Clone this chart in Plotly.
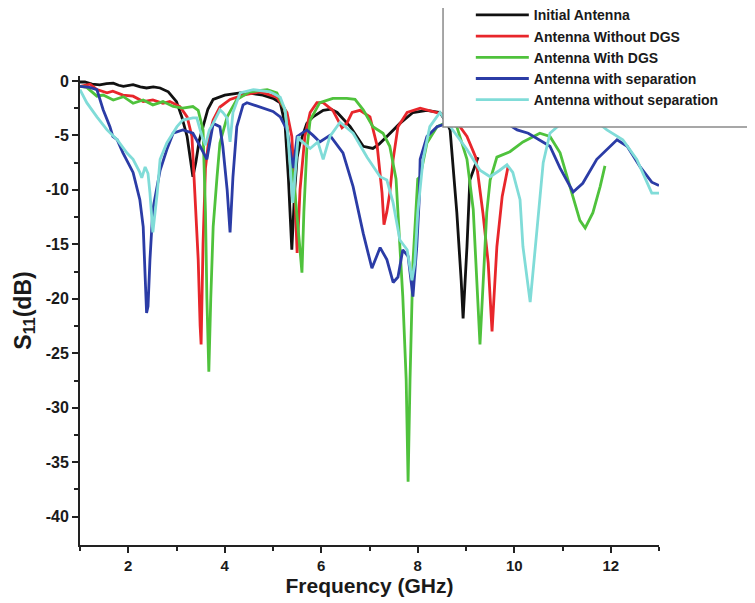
import plotly.graph_objects as go

# ---------------- data (frequency in GHz, S11 in dB) ----------------
series_names = ["Initial Antenna", "Antenna Without DGS", "Antenna With DGS",
                "Antenna with separation", "Antenna without separation"]

initial_f = [1.0, 1.1, 1.25, 1.41, 1.55, 1.69, 1.8, 1.9, 2.1, 2.25, 2.38, 2.52, 2.66, 2.83, 3.0,
             3.11, 3.22, 3.3, 3.34, 3.4, 3.47, 3.55, 3.65, 3.76, 4.0, 4.32, 4.55, 4.79, 5.0, 5.15,
             5.25, 5.32, 5.39, 5.45, 5.5, 5.56, 5.7, 5.83, 6.04, 6.2, 6.33, 6.6, 6.87, 7.07, 7.2,
             7.36, 7.63, 7.9, 8.19, 8.46, 8.61, 8.67, 8.81, 8.9, 8.94, 9.02, 9.08, 9.25]
initial_db = [-0.1, -0.1, -0.3, -0.37, -0.25, -0.2, -0.4, -0.5, -0.35, -0.55, -0.65, -0.55, -0.65, -1.0, -1.9,
              -3.3, -5.1, -7.5, -8.8, -7.5, -5.5, -4.2, -2.6, -1.7, -1.3, -1.1, -1.15, -1.3, -1.6, -2.0,
              -4.0, -9.0, -15.5, -10.0, -7.0, -5.7, -3.9, -3.3, -2.7, -2.6, -2.9, -4.2, -6.0, -6.2, -5.8,
              -5.1, -3.9, -2.9, -2.7, -2.9, -3.9, -4.5, -12.1, -18.3, -21.8, -15.2, -9.1, -7.0]

nodgs_f = [1.0, 1.21, 1.35, 1.56, 1.68, 1.89, 2.1, 2.31, 2.51, 2.72, 2.86, 3.07, 3.22, 3.32, 3.38,
           3.45, 3.49, 3.51, 3.55, 3.6, 3.68, 3.76, 3.9, 4.11, 4.38, 4.73, 5.08, 5.29, 5.39, 5.45,
           5.5, 5.56, 5.66, 5.77, 5.91, 6.04, 6.24, 6.43, 6.53, 6.64, 6.8, 7.01, 7.16, 7.26, 7.3,
           7.36, 7.42, 7.49, 7.59, 7.78, 8.05, 8.32, 8.5, 8.73, 9.02, 9.2, 9.35, 9.46, 9.54, 9.64,
           9.75, 9.87]
nodgs_db = [-0.5, -0.3, -0.8, -1.1, -0.95, -1.3, -1.4, -1.9, -1.75, -2.05, -1.9, -2.35, -3.3, -5.1, -10.3,
            -16.4, -22.5, -24.2, -15.0, -8.0, -5.0, -3.6, -2.4, -1.7, -1.3, -1.0, -1.5, -2.9, -5.1, -10.0,
            -15.8, -10.0, -5.1, -2.9, -2.0, -2.0, -2.7, -4.3, -3.9, -2.9, -2.7, -3.3, -6.0, -10.3, -13.2,
            -12.0, -10.3, -7.2, -4.2, -2.9, -2.5, -2.8, -3.0, -3.3, -5.1, -7.0, -12.1, -16.7, -23.0, -15.2,
            -10.6, -7.9]

dgs_f = [1.0, 1.14, 1.35, 1.48, 1.69, 1.9, 2.1, 2.31, 2.51, 2.72, 2.93, 3.13, 3.34, 3.45, 3.55,
         3.6, 3.63, 3.67, 3.71, 3.76, 3.84, 3.9, 4.05, 4.25, 4.52, 4.88, 5.08, 5.25, 5.31, 5.45,
         5.55, 5.6, 5.64, 5.7, 5.77, 5.97, 6.24, 6.53, 6.7, 6.87, 7.07, 7.28, 7.42, 7.55, 7.63,
         7.69, 7.76, 7.8, 7.84, 7.9, 8.0, 8.05, 8.19, 8.4, 8.61, 8.81, 9.02, 9.15, 9.29, 9.43,
         9.5, 9.64, 9.91, 10.18, 10.53, 10.74, 10.95, 11.16, 11.36, 11.47, 11.63, 11.78, 11.88]
dgs_db = [-0.5, -0.6, -1.4, -1.3, -1.75, -1.45, -2.05, -1.75, -2.2, -1.9, -2.35, -2.5, -2.35, -2.7, -4.5,
          -12.0, -20.0, -26.7, -20.0, -13.4, -8.8, -5.7, -3.3, -1.7, -1.0, -0.8, -1.1, -2.65, -5.1, -10.0,
          -15.0, -17.6, -12.0, -6.3, -3.6, -2.0, -1.6, -1.6, -1.7, -2.65, -4.2, -4.8, -6.0, -9.0, -15.2,
          -19.8, -27.4, -36.8, -27.4, -16.7, -9.0, -8.8, -5.7, -4.2, -3.8, -4.2, -7.2, -11.8, -24.2, -12.1,
          -9.1, -7.0, -6.5, -5.6, -4.8, -5.1, -6.6, -9.7, -12.8, -13.5, -12.1, -9.7, -7.8]

sep_f = [1.0, 1.2, 1.35, 1.48, 1.62, 1.68, 1.77, 1.89, 2.1, 2.24, 2.31, 2.35, 2.38, 2.41, 2.45,
         2.51, 2.66, 2.8, 2.93, 3.13, 3.34, 3.49, 3.55, 3.63, 3.76, 3.9, 3.96, 4.05, 4.11, 4.17,
         4.25, 4.38, 4.46, 4.73, 5.0, 5.15, 5.29, 5.36, 5.42, 5.5, 5.62, 5.7, 5.83, 5.97, 6.18,
         6.45, 6.66, 6.87, 7.05, 7.22, 7.36, 7.49, 7.59, 7.69, 7.8, 7.9, 7.98, 8.03, 8.05, 8.19,
         8.4, 8.61, 8.9, 9.3, 9.7, 10.06, 10.29, 10.53, 10.74, 10.95, 11.09, 11.22, 11.42, 11.71, 12.13,
         12.34, 12.61, 12.85, 13.0]
sep_db = [-0.5, -0.6, -0.8, -2.65, -4.2, -5.1, -5.4, -6.6, -8.4, -10.9, -13.4, -18.0, -21.3, -20.7, -16.4,
          -11.8, -8.2, -6.3, -4.8, -4.5, -4.8, -6.0, -6.5, -7.2, -3.9, -4.2, -6.0, -10.0, -13.9, -8.8,
          -4.2, -2.2, -2.0, -2.4, -2.8, -3.3, -4.5, -6.5, -8.0, -5.1, -4.7, -4.5, -5.0, -5.6, -5.0,
          -6.6, -9.7, -14.0, -17.2, -15.3, -16.4, -18.5, -18.0, -15.5, -16.1, -19.8, -15.2, -10.9, -7.2, -5.1,
          -4.2, -3.9, -3.4, -3.0, -3.5, -4.5, -4.8, -5.4, -6.0, -8.0, -9.1, -10.2, -9.4, -7.2, -5.4,
          -6.0, -7.9, -9.3, -9.6]

nosep_f = [1.0, 1.14, 1.35, 1.56, 1.77, 1.97, 2.1, 2.24, 2.28, 2.35, 2.41, 2.45, 2.51, 2.6, 2.66,
           2.8, 3.01, 3.13, 3.34, 3.42, 3.53, 3.6, 3.68, 3.76, 3.9, 3.96, 4.05, 4.11, 4.17, 4.32,
           4.59, 4.94, 5.15, 5.25, 5.31, 5.41, 5.47, 5.52, 5.56, 5.77, 5.93, 6.04, 6.18, 6.39, 6.66,
           6.95, 7.22, 7.36, 7.49, 7.63, 7.78, 7.88, 7.94, 8.0, 8.11, 8.25, 8.46, 8.61, 8.81, 9.02,
           9.29, 9.5, 9.7, 9.85, 9.97, 10.12, 10.18, 10.33, 10.47, 10.6, 10.74, 10.89, 11.2, 11.5, 11.92,
           12.25, 12.54, 12.85, 13.0]
nosep_db = [-0.8, -2.0, -3.3, -4.5, -5.4, -6.6, -7.2, -8.4, -8.9, -7.9, -8.5, -10.3, -13.9, -10.3, -7.2,
            -5.7, -4.2, -3.6, -3.4, -3.4, -5.1, -5.9, -4.5, -3.9, -2.65, -2.9, -3.4, -5.6, -2.9, -1.1,
            -0.8, -1.0, -1.5, -2.65, -5.1, -11.2, -8.0, -5.1, -5.4, -6.2, -5.6, -7.2, -5.1, -3.8, -4.8,
            -7.0, -8.8, -9.1, -11.2, -14.6, -15.5, -18.3, -16.7, -12.1, -7.2, -4.2, -2.9, -3.8, -5.1, -6.3,
            -8.2, -8.8, -8.2, -7.7, -8.4, -10.9, -15.2, -20.3, -13.7, -7.5, -4.8, -4.2, -3.0, -3.0, -4.5,
            -5.4, -7.2, -10.3, -10.3]

x_tick_vals = [2, 4, 6, 8, 10, 12]
x_tick_text = ["2", "4", "6", "8", "10", "12"]
y_tick_vals = [0, -5, -10, -15, -20, -25, -30, -35, -40]
y_tick_text = ["0", "-5", "-10", "-15", "-20", "-25", "-30", "-35", "-40"]

colors = ["#111111", "#e8262b", "#4fc23c", "#2b3ca6", "#80dcd8"]
all_f = [initial_f, nodgs_f, dgs_f, sep_f, nosep_f]
all_db = [initial_db, nodgs_db, dgs_db, sep_db, nosep_db]

FONT = "Liberation Sans, Arial, sans-serif"
TXT = "#1a1a1a"

fig = go.Figure()
for name, fx, fy, c in zip(series_names, all_f, all_db, colors):
    fig.add_trace(go.Scatter(x=fx, y=fy, mode="lines", name=name,
                             line=dict(color=c, width=2.8)))

fig.update_layout(
    width=755, height=603,
    margin=dict(l=72, r=104, t=68, b=66, autoexpand=False),
    paper_bgcolor="white", plot_bgcolor="white",
    font=dict(family=FONT, color=TXT),
    showlegend=True,
    legend=dict(x=0.675, y=1.1635, xanchor="left", yanchor="top",
                bgcolor="rgba(0,0,0,0)", borderwidth=0,
                font=dict(size=14, family=FONT, color=TXT, weight="bold"),
                itemwidth=53, tracegroupgap=0),
    shapes=[dict(type="rect", xref="paper", yref="paper",
                 x0=0.627, x1=1.2, y0=0.891, y1=1.25,
                 fillcolor="white", line=dict(color="#8a8a8a", width=1.5),
                 layer="above")],
)

fig.update_xaxes(
    range=[1, 13], showgrid=False, zeroline=False,
    showline=True, linecolor="#222", linewidth=2,
    tickmode="array", tickvals=x_tick_vals, ticktext=x_tick_text,
    ticks="outside", ticklen=6, tickwidth=2, tickcolor="#222",
    tickfont=dict(size=15, family=FONT, color=TXT, weight="bold"),
    minor=dict(tickmode="array", tickvals=[1, 3, 5, 7, 9, 11, 13], ticks="outside",
               ticklen=4, tickwidth=2, tickcolor="#222"),
    title=dict(text="Frequency (GHz)", standoff=3,
               font=dict(size=21, family=FONT, color=TXT, weight="bold")),
)
fig.update_yaxes(
    range=[-42.6, 0.45], showgrid=False, zeroline=False,
    showline=True, linecolor="#222", linewidth=2,
    tickmode="array", tickvals=y_tick_vals, ticktext=y_tick_text,
    ticks="outside", ticklen=6, tickwidth=2, tickcolor="#222",
    tickfont=dict(size=16, family=FONT, color=TXT, weight="bold"),
    minor=dict(tickmode="array",
               tickvals=[-2.5, -7.5, -12.5, -17.5, -22.5, -27.5, -32.5, -37.5],
               ticks="outside", ticklen=4, tickwidth=2, tickcolor="#222"),
    title=dict(text="S<sub>11</sub>(dB)", standoff=8,
               font=dict(size=23, family=FONT, color=TXT, weight="bold")),
)

fig.write_html("out.html")
